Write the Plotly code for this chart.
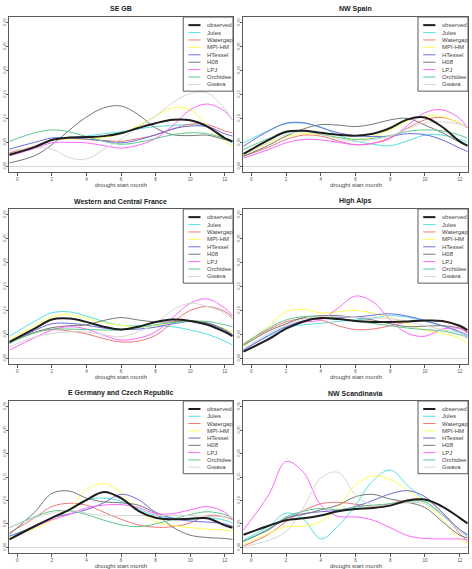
import plotly.graph_objects as go

# months at which the density curves were read
months = [-0.45, 1, 2, 3, 4, 5, 6, 7, 8, 9, 10, 11, 12, 12.45]

series_names = ["observed", "Jules", "Watergap", "MPI-HM", "HTessel", "H08", "LPJ", "Orchidee", "Gwava"]
series_colors = ["#1e1e1e", "#55e3e3", "#f07878", "#ffff55", "#6b6be0", "#777777", "#ff66ff", "#5ec98a", "#d6d6d6"]
series_widths = [2, 1, 1, 1, 1, 1, 1, 1, 1]

se_gb = {
    "observed": [0.024, 0.040, 0.055, 0.060, 0.061, 0.063, 0.069, 0.080, 0.090, 0.097, 0.096, 0.083, 0.059, 0.052],
    "Jules":    [0.026, 0.040, 0.056, 0.060, 0.063, 0.068, 0.072, 0.078, 0.083, 0.085, 0.087, 0.082, 0.057, 0.049],
    "Watergap": [0.028, 0.042, 0.055, 0.058, 0.056, 0.054, 0.052, 0.058, 0.065, 0.078, 0.088, 0.087, 0.074, 0.070],
    "MPI-HM":   [0.024, 0.040, 0.055, 0.057, 0.057, 0.060, 0.068, 0.085, 0.105, 0.122, 0.118, 0.085, 0.052, 0.042],
    "HTessel":  [0.036, 0.050, 0.059, 0.059, 0.057, 0.053, 0.049, 0.055, 0.066, 0.078, 0.084, 0.083, 0.068, 0.063],
    "H08":      [0.007, 0.022, 0.045, 0.075, 0.103, 0.122, 0.126, 0.108, 0.080, 0.066, 0.064, 0.065, 0.056, 0.053],
    "LPJ":      [0.022, 0.037, 0.049, 0.050, 0.049, 0.043, 0.038, 0.044, 0.058, 0.085, 0.118, 0.130, 0.115, 0.097],
    "Orchidee": [0.052, 0.070, 0.076, 0.072, 0.062, 0.052, 0.046, 0.050, 0.058, 0.066, 0.070, 0.068, 0.058, 0.052],
    "Gwava":    [0.032, 0.038, 0.036, 0.018, 0.015, 0.035, 0.057, 0.082, 0.105, 0.133, 0.152, 0.153, 0.120, 0.097],
}

nw_spain = {
    "observed": [0.026, 0.055, 0.072, 0.074, 0.070, 0.066, 0.064, 0.068, 0.080, 0.098, 0.102, 0.082, 0.052, 0.043],
    "Jules":    [0.049, 0.075, 0.089, 0.090, 0.082, 0.065, 0.053, 0.046, 0.043, 0.053, 0.065, 0.065, 0.056, 0.050],
    "Watergap": [0.021, 0.040, 0.056, 0.065, 0.063, 0.053, 0.045, 0.048, 0.060, 0.080, 0.097, 0.102, 0.090, 0.080],
    "MPI-HM":   [0.024, 0.048, 0.062, 0.068, 0.066, 0.060, 0.056, 0.062, 0.076, 0.095, 0.105, 0.104, 0.090, 0.080],
    "HTessel":  [0.042, 0.074, 0.090, 0.091, 0.081, 0.070, 0.064, 0.062, 0.063, 0.068, 0.066, 0.055, 0.038, 0.031],
    "H08":      [0.021, 0.044, 0.063, 0.078, 0.087, 0.086, 0.083, 0.088, 0.097, 0.100, 0.086, 0.070, 0.050, 0.042],
    "LPJ":      [0.017, 0.035, 0.049, 0.056, 0.055, 0.050, 0.045, 0.048, 0.058, 0.085, 0.112, 0.118, 0.100, 0.080],
    "Orchidee": [0.035, 0.058, 0.070, 0.073, 0.067, 0.060, 0.056, 0.058, 0.064, 0.073, 0.076, 0.074, 0.065, 0.059],
    "Gwava":    [0.024, 0.050, 0.066, 0.072, 0.066, 0.058, 0.052, 0.056, 0.063, 0.078, 0.090, 0.093, 0.088, 0.083],
}

w_c_france = {
    "observed": [0.034, 0.062, 0.081, 0.083, 0.076, 0.066, 0.060, 0.066, 0.076, 0.081, 0.078, 0.070, 0.055, 0.046],
    "Jules":    [0.046, 0.077, 0.095, 0.097, 0.088, 0.077, 0.069, 0.068, 0.068, 0.066, 0.059, 0.050, 0.036, 0.028],
    "Watergap": [0.033, 0.054, 0.060, 0.057, 0.051, 0.041, 0.034, 0.036, 0.048, 0.075, 0.100, 0.108, 0.098, 0.086],
    "MPI-HM":   [0.038, 0.068, 0.087, 0.091, 0.083, 0.074, 0.069, 0.066, 0.068, 0.075, 0.079, 0.073, 0.062, 0.055],
    "HTessel":  [0.031, 0.058, 0.072, 0.073, 0.069, 0.063, 0.060, 0.061, 0.065, 0.072, 0.077, 0.074, 0.060, 0.050],
    "H08":      [0.034, 0.054, 0.064, 0.068, 0.070, 0.079, 0.085, 0.080, 0.076, 0.076, 0.079, 0.073, 0.058, 0.048],
    "LPJ":      [0.017, 0.043, 0.059, 0.066, 0.061, 0.048, 0.038, 0.042, 0.055, 0.085, 0.115, 0.124, 0.105, 0.090],
    "Orchidee": [0.032, 0.053, 0.061, 0.061, 0.060, 0.059, 0.059, 0.064, 0.070, 0.075, 0.077, 0.077, 0.070, 0.066],
    "Gwava":    [0.024, 0.044, 0.052, 0.055, 0.055, 0.049, 0.045, 0.056, 0.072, 0.101, 0.115, 0.108, 0.095, 0.083],
}

high_alps = {
    "observed": [0.014, 0.040, 0.062, 0.077, 0.084, 0.082, 0.078, 0.076, 0.076, 0.077, 0.079, 0.078, 0.068, 0.059],
    "Jules":    [0.019, 0.046, 0.064, 0.070, 0.073, 0.077, 0.080, 0.084, 0.089, 0.086, 0.077, 0.068, 0.053, 0.045],
    "Watergap": [0.030, 0.060, 0.076, 0.083, 0.080, 0.068, 0.060, 0.061, 0.068, 0.076, 0.079, 0.077, 0.066, 0.055],
    "MPI-HM":   [0.024, 0.068, 0.097, 0.102, 0.095, 0.097, 0.100, 0.094, 0.085, 0.072, 0.058, 0.052, 0.042, 0.031],
    "HTessel":  [0.017, 0.048, 0.066, 0.078, 0.083, 0.085, 0.086, 0.090, 0.093, 0.088, 0.079, 0.068, 0.056, 0.048],
    "H08":      [0.027, 0.057, 0.072, 0.085, 0.089, 0.089, 0.085, 0.080, 0.072, 0.066, 0.067, 0.068, 0.063, 0.055],
    "LPJ":      [0.014, 0.042, 0.062, 0.075, 0.080, 0.105, 0.130, 0.118, 0.080, 0.052, 0.046, 0.061, 0.062, 0.052],
    "Orchidee": [0.030, 0.063, 0.080, 0.087, 0.087, 0.083, 0.077, 0.073, 0.068, 0.063, 0.060, 0.057, 0.049, 0.044],
    "Gwava":    [0.019, 0.052, 0.069, 0.082, 0.087, 0.087, 0.085, 0.084, 0.083, 0.077, 0.068, 0.060, 0.052, 0.041],
}

e_germany_czech = {
    "observed": [0.017, 0.045, 0.063, 0.080, 0.101, 0.118, 0.105, 0.078, 0.063, 0.060, 0.061, 0.062, 0.047, 0.042],
    "Jules":    [0.024, 0.045, 0.063, 0.080, 0.101, 0.105, 0.098, 0.082, 0.068, 0.063, 0.059, 0.063, 0.058, 0.052],
    "Watergap": [0.031, 0.063, 0.087, 0.094, 0.090, 0.075, 0.060, 0.048, 0.043, 0.044, 0.052, 0.068, 0.065, 0.059],
    "MPI-HM":   [0.021, 0.040, 0.056, 0.080, 0.123, 0.136, 0.117, 0.078, 0.055, 0.046, 0.042, 0.039, 0.037, 0.035],
    "HTessel":  [0.024, 0.044, 0.063, 0.071, 0.080, 0.095, 0.113, 0.102, 0.075, 0.062, 0.056, 0.054, 0.050, 0.045],
    "H08":      [0.028, 0.075, 0.115, 0.120, 0.105, 0.097, 0.095, 0.090, 0.072, 0.043, 0.026, 0.021, 0.019, 0.017],
    "LPJ":      [0.017, 0.043, 0.059, 0.070, 0.084, 0.090, 0.091, 0.085, 0.072, 0.072, 0.080, 0.087, 0.075, 0.059],
    "Orchidee": [0.042, 0.065, 0.077, 0.078, 0.070, 0.058, 0.048, 0.044, 0.050, 0.060, 0.070, 0.076, 0.070, 0.063],
    "Gwava":    [0.042, 0.063, 0.073, 0.079, 0.073, 0.068, 0.068, 0.068, 0.068, 0.068, 0.068, 0.066, 0.065, 0.064],
}

nw_scandinavia = {
    "observed": [0.027, 0.046, 0.058, 0.062, 0.068, 0.077, 0.082, 0.084, 0.089, 0.100, 0.102, 0.087, 0.063, 0.051],
    "Jules":    [0.016, 0.045, 0.073, 0.060, 0.018, 0.046, 0.090, 0.142, 0.165, 0.132, 0.100, 0.068, 0.038, 0.027],
    "Watergap": [0.003, 0.028, 0.055, 0.078, 0.093, 0.096, 0.092, 0.088, 0.093, 0.101, 0.102, 0.075, 0.030, 0.013],
    "MPI-HM":   [0.006, 0.030, 0.044, 0.045, 0.055, 0.085, 0.133, 0.152, 0.145, 0.122, 0.095, 0.060, 0.018, 0.009],
    "HTessel":  [0.013, 0.038, 0.062, 0.072, 0.076, 0.079, 0.087, 0.100, 0.114, 0.121, 0.108, 0.074, 0.038, 0.027],
    "H08":      [0.013, 0.038, 0.062, 0.070, 0.080, 0.090, 0.108, 0.113, 0.103, 0.096, 0.085, 0.055, 0.026, 0.020],
    "LPJ":      [0.037, 0.112, 0.183, 0.160, 0.090, 0.066, 0.065, 0.058, 0.042, 0.025, 0.019, 0.018, 0.018, 0.016],
    "Orchidee": [0.013, 0.040, 0.065, 0.077, 0.083, 0.080, 0.086, 0.090, 0.093, 0.098, 0.097, 0.070, 0.036, 0.023],
    "Gwava":    [0.002, 0.015, 0.034, 0.085, 0.148, 0.160, 0.112, 0.090, 0.090, 0.095, 0.093, 0.068, 0.036, 0.023],
}

region_titles = ["SE GB", "NW Spain", "Western and Central France", "High Alps",
                 "E Germany and Czech Republic", "NW Scandinavia"]
region_data = [se_gb, nw_spain, w_c_france, high_alps, e_germany_czech, nw_scandinavia]

x_ticks = [0, 2, 4, 6, 8, 10, 12]
y_ticks = [0.0, 0.05, 0.10, 0.15, 0.20, 0.25, 0.30]
y_tick_text = ["0.00", "0.05", "0.10", "0.15", "0.20", "0.25", "0.30"]
x_title = "drought start month"

W, H = 472, 569
col_px = [(9, 233), (243, 468)]
row_px = [(17, 172), (209, 364), (401, 553)]
X_RANGE = [-0.48, 12.48]
Y_RANGE = [-0.012, 0.312]

fig = go.Figure()
layout = dict(width=W, height=H, margin=dict(l=0, r=0, t=0, b=0),
              paper_bgcolor="white", plot_bgcolor="white", showlegend=False,
              font=dict(family="Liberation Sans, Arial, sans-serif", color="#333"))
shapes = []
annotations = []

frame = "#5a5a5a"

for i, (title, data) in enumerate(zip(region_titles, region_data)):
    r, c = divmod(i, 2)
    n = "" if i == 0 else str(i + 1)
    xa, ya = "x" + n, "y" + n
    x0p, x1p = col_px[c]
    y0p, y1p = row_px[r]
    layout["xaxis" + n] = dict(
        domain=[x0p / W, x1p / W], range=X_RANGE, anchor=ya,
        tickvals=x_ticks, ticktext=[str(v) for v in x_ticks],
        ticks="outside", ticklen=3, tickcolor=frame, tickwidth=1,
        tickfont=dict(size=4.5, color="#555"),
        showline=True, mirror=True, linecolor=frame, linewidth=1,
        showgrid=False, zeroline=False, automargin=False, fixedrange=True)
    layout["yaxis" + n] = dict(
        domain=[1 - y1p / H, 1 - y0p / H], range=Y_RANGE, anchor=xa,
        tickvals=y_ticks, ticktext=y_tick_text, tickangle=-90,
        ticks="outside", ticklen=2, tickcolor=frame, tickwidth=1,
        tickfont=dict(size=4, color="#555"), ticklabelstandoff=-2,
        showline=True, mirror=True, linecolor=frame, linewidth=1,
        showgrid=False, zeroline=True, zerolinecolor="#d4d4d4", zerolinewidth=1,
        automargin=False, fixedrange=True)

    # curves: models first, observed on top
    order = list(range(1, len(series_names))) + [0]
    for k in order:
        name = series_names[k]
        fig.add_trace(go.Scatter(
            x=months, y=data[name], mode="lines", name=name,
            line=dict(color=series_colors[k], width=series_widths[k], shape="spline", smoothing=1.0),
            xaxis=xa, yaxis=ya, hoverinfo="skip"))

    # panel title
    annotations.append(dict(text="<b>" + title + "</b>", x=(x0p + x1p) / 2 / W, y=1 - (y0p - 8) / H,
                            xref="paper", yref="paper", showarrow=False, xanchor="center", yanchor="middle",
                            font=dict(size=7, color="#222")))
    # x-axis title
    annotations.append(dict(text=x_title, x=(x0p + x1p) / 2 / W, y=1 - min(y1p + 13, 565.5) / H,
                            xref="paper", yref="paper", showarrow=False, xanchor="center", yanchor="middle",
                            font=dict(size=6, color="#444")))

    # legend box (top-right)
    shapes.append(dict(type="rect", xref=xa, yref=ya, x0=9.6, x1=12.48, y0=0.157, y1=0.312,
                       line=dict(color=frame, width=1), fillcolor="white", layer="above"))
    for k, name in enumerate(series_names):
        yy = 0.295 - k * 0.0155
        shapes.append(dict(type="line", xref=xa, yref=ya, x0=9.9, x1=10.6, y0=yy, y1=yy,
                           line=dict(color=series_colors[k], width=series_widths[k]), layer="above"))
        annotations.append(dict(text=name, x=10.85, y=yy, xref=xa, yref=ya, showarrow=False,
                                xanchor="left", yanchor="middle", font=dict(size=6, color="#444")))

layout["shapes"] = shapes
layout["annotations"] = annotations
fig.update_layout(**layout)
fig.write_html("out.html")
